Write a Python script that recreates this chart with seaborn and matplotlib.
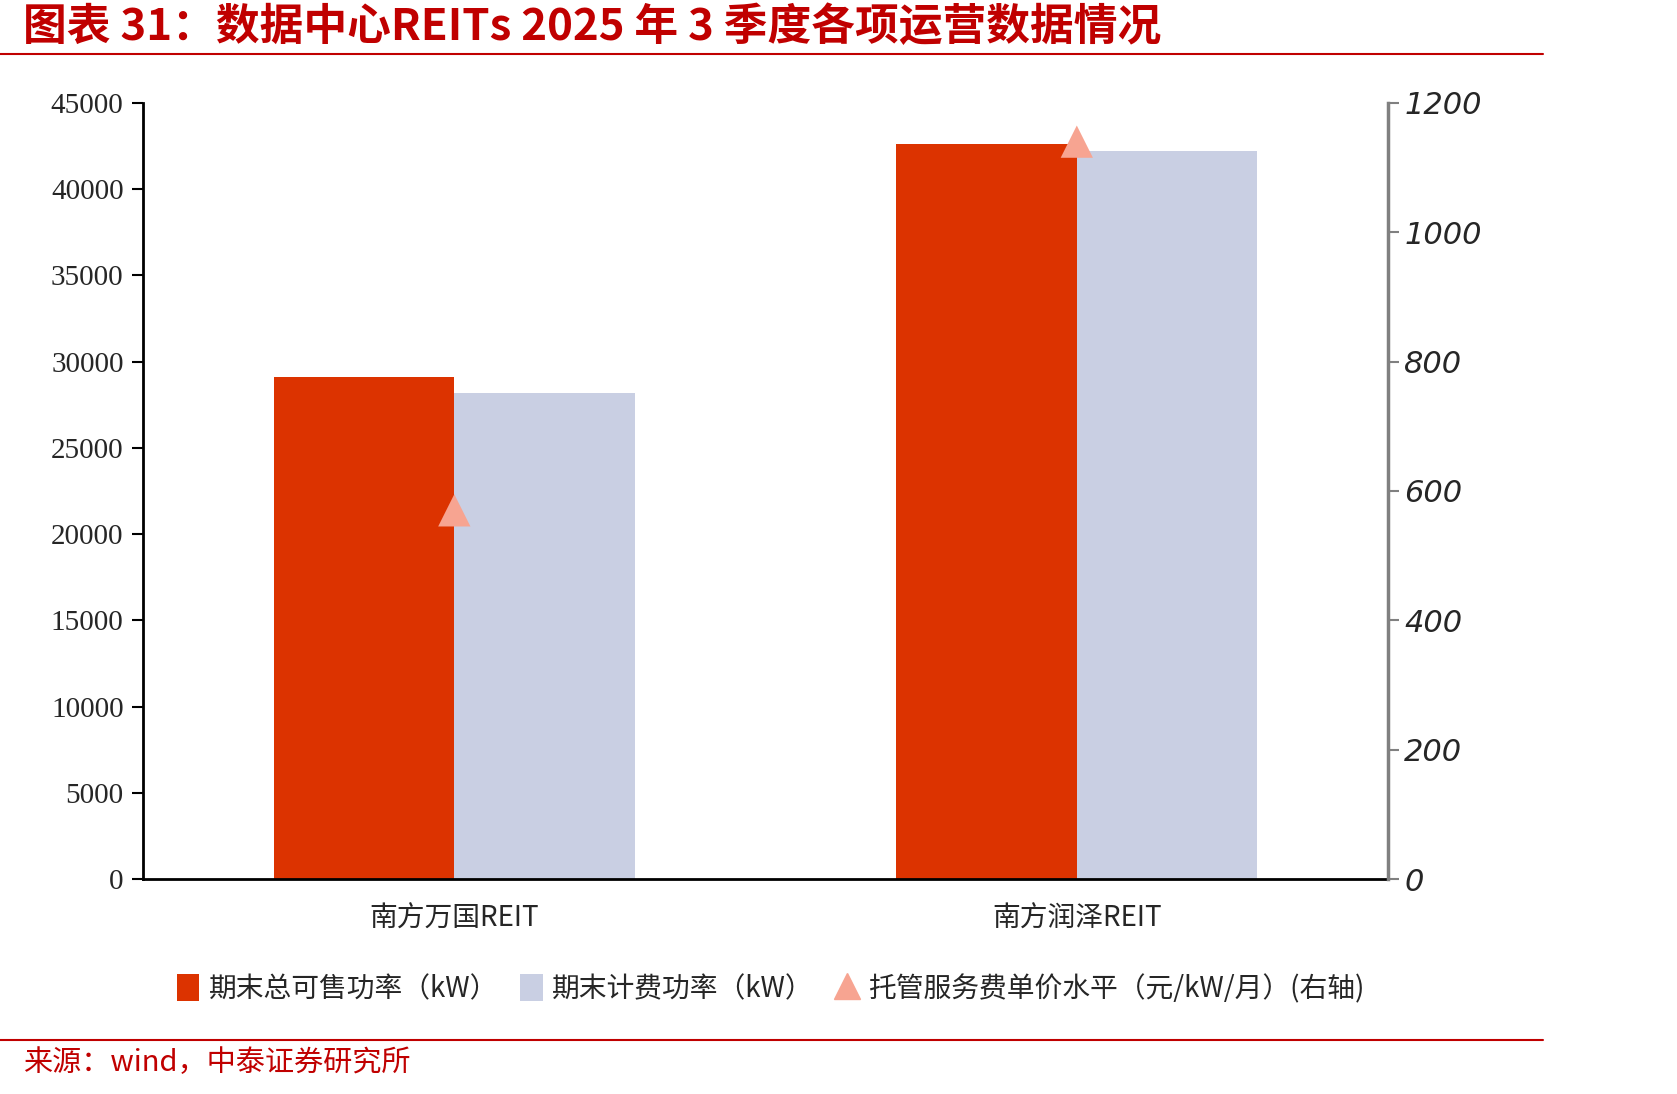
import matplotlib
matplotlib.use("Agg")
import matplotlib.pyplot as plt
from matplotlib.lines import Line2D
from matplotlib.patches import Patch
import numpy as np
import pandas as pd
import seaborn as sns

# 数据
categories = ["南方万国REIT", "南方润泽REIT"]
series_names = ["期末总可售功率（kW）", "期末计费功率（kW）"]
total_power = [29100, 42600]
billed_power = [28200, 42200]
fee_name = "托管服务费单价水平（元/kW/月）(右轴)"
fee_price = [570, 1140]

left_ticks = list(range(0, 45001, 5000))
right_ticks = list(range(0, 1201, 200))

RED = "#DC3300"
GREY = "#C9CFE3"
SALMON = "#F7A491"
TITLE_RED = "#C00000"

sns.set_theme(style="white")
plt.rcParams["font.family"] = ["Noto Sans CJK SC", "DejaVu Sans"]

df = pd.DataFrame({
    "name": categories * 2,
    "series": [series_names[0]] * 2 + [series_names[1]] * 2,
    "value": total_power + billed_power,
})

fig = plt.figure(figsize=(16.77, 10.94), dpi=100)
ax = fig.add_axes([0.0853, 0.1965, 0.7424, 0.7095])

sns.barplot(data=df, x="name", y="value", hue="series", order=categories,
            hue_order=series_names, palette=[RED, GREY], width=0.58,
            saturation=1, linewidth=0, ax=ax, legend=False)
ax.set_xlim(-0.5, 1.5)
ax.set_ylim(0, 45000)
ax.set_yticks(left_ticks)
ax.set_yticklabels([str(t) for t in left_ticks], family="Liberation Serif", fontsize=21)
ax.set_xlabel("")
ax.set_ylabel("")

# 类别刻度放在分界处，标签放在中间
ax.set_xticks([-0.5, 0.5, 1.5])
ax.set_xticklabels([])
ax.set_xticks([0, 1], minor=True)
ax.set_xticklabels(categories, minor=True, fontsize=20)
ax.tick_params(axis="x", which="major", direction="out", length=8, width=2, color="black")
ax.tick_params(axis="x", which="minor", length=0, pad=18)
ax.tick_params(axis="y", direction="out", length=8, width=1.5, color="black", left=True, pad=6)

for s in ["top", "right"]:
    ax.spines[s].set_visible(False)
ax.spines["left"].set_color("black")
ax.spines["left"].set_linewidth(2)
ax.spines["bottom"].set_color("black")
ax.spines["bottom"].set_linewidth(2)

ax2 = ax.twinx()
sns.scatterplot(x=np.arange(len(categories)), y=fee_price, marker="^", s=540,
                color=SALMON, edgecolor="none", ax=ax2, zorder=5)
ax2.set_xlim(-0.5, 1.5)
ax2.set_ylim(0, 1200)
ax2.set_yticks(right_ticks)
ax2.set_yticklabels([str(t) for t in right_ticks], family="DejaVu Sans",
                    style="italic", fontsize=22)
ax2.tick_params(axis="y", direction="out", length=8, width=1.5, color="#808080", right=True)
for s in ["top", "left", "bottom"]:
    ax2.spines[s].set_visible(False)
ax2.spines["right"].set_color("#808080")
ax2.spines["right"].set_linewidth(2.5)
ax2.set_ylabel("")

# 标题、分隔线、来源
fig.text(0.014, 0.975, "图表 31：数据中心REITs 2025 年 3 季度各项运营数据情况",
         color=TITLE_RED, fontsize=31.5, fontweight="bold", va="center", ha="left")
fig.add_artist(Line2D([0, 0.92], [0.951, 0.951], color=TITLE_RED, lw=1.5))
fig.add_artist(Line2D([0, 0.92], [0.049, 0.049], color=TITLE_RED, lw=1.5))
fig.text(0.014, 0.028, "来源：wind，中泰证券研究所", color=TITLE_RED,
         fontsize=21, va="center", ha="left")

handles = [
    Patch(facecolor=RED, edgecolor="none", label=series_names[0]),
    Patch(facecolor=GREY, edgecolor="none", label=series_names[1]),
    Line2D([], [], marker="^", linestyle="none", color=SALMON, markersize=19, label=fee_name),
]
fig.legend(handles=handles, loc="center", bbox_to_anchor=(0.4595, 0.096), ncol=3,
           frameon=False, fontsize=20, handlelength=0.8, handleheight=1.1,
           handletextpad=0.35, columnspacing=0.8)

fig.savefig("out.png", dpi=100)
